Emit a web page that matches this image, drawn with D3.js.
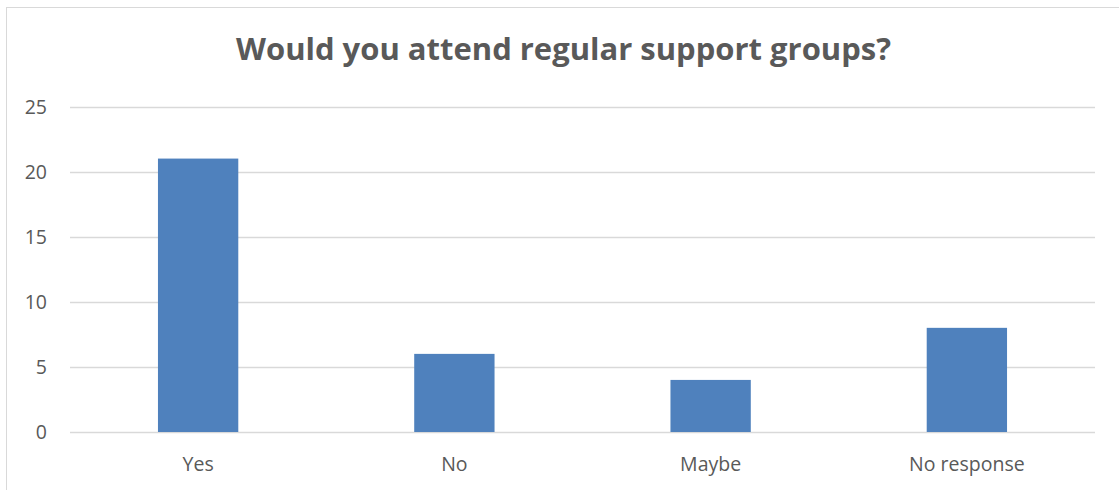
<!DOCTYPE html>
<html><head><meta charset="utf-8">
<script src="https://cdn.jsdelivr.net/npm/d3@7"></script>
<style>body{margin:0;background:#fff}svg{display:block}</style>
</head><body>
<svg id="c" width="1119" height="490"></svg>
<script>
const categories = ["Yes", "No", "Maybe", "No response"];
const values = [21, 6, 4, 8];
const yTicks = [0, 5, 10, 15, 20, 25];
const chartTitle = "Would you attend regular support groups?";

(function () {
const svg = d3.select("#c");
const font = "'Open Sans', 'Liberation Sans', sans-serif";
svg.append("rect").attr("x", 6.5).attr("y", 7.5).attr("width", 1130).attr("height", 500)
  .attr("fill", "#fff").attr("stroke", "#d9d9d9").attr("stroke-width", 1);

const pl = 70, pr = 1095, pt = 106.5, pb = 432;
const gap = 2.19 / 3.19;
const x = d3.scaleBand().domain(categories).range([pl, pr]).paddingInner(gap).paddingOuter(gap / 2);
const y = d3.scaleLinear().domain([0, 25]).range([pb, pt]);

// gridlines
svg.append("g").selectAll("line").data(yTicks).join("line")
  .attr("x1", pl).attr("x2", pr)
  .attr("y1", d => Math.round(y(d)) + 0.5).attr("y2", d => Math.round(y(d)) + 0.5)
  .attr("stroke", "#d9d9d9").attr("stroke-width", 1.3);

// y axis labels
const yAxis = d3.axisLeft(y).tickValues(yTicks).tickSize(0).tickPadding(0);
const gy = svg.append("g").attr("transform", `translate(47,0)`).call(yAxis);
gy.select(".domain").remove();
gy.selectAll("text").attr("font-family", font).attr("font-size", 19.5).attr("fill", "#595959").attr("dy", "0.35em");

// bars
svg.append("g").selectAll("rect").data(values).join("rect")
  .attr("x", (d, i) => x(categories[i]))
  .attr("width", x.bandwidth())
  .attr("y", d => y(d))
  .attr("height", d => y(0) - y(d))
  .attr("fill", "#4f81bd");

// x axis labels
const xAxis = d3.axisBottom(x).tickSize(0).tickPadding(0);
const gx = svg.append("g").attr("transform", `translate(0,${pb})`).call(xAxis);
gx.select(".domain").remove();
gx.selectAll("text").attr("font-family", font).attr("font-size", 19.5).attr("fill", "#595959")
  .attr("dy", null).attr("y", 39);

// title
svg.append("text").attr("x", 563.5).attr("y", 60).attr("text-anchor", "middle")
  .attr("font-family", font).attr("font-weight", "bold").attr("font-size", 31)
  .attr("fill", "#595959").attr("textLength", 655).attr("lengthAdjust", "spacingAndGlyphs")
  .text(chartTitle);
})();
</script>
</body></html>
